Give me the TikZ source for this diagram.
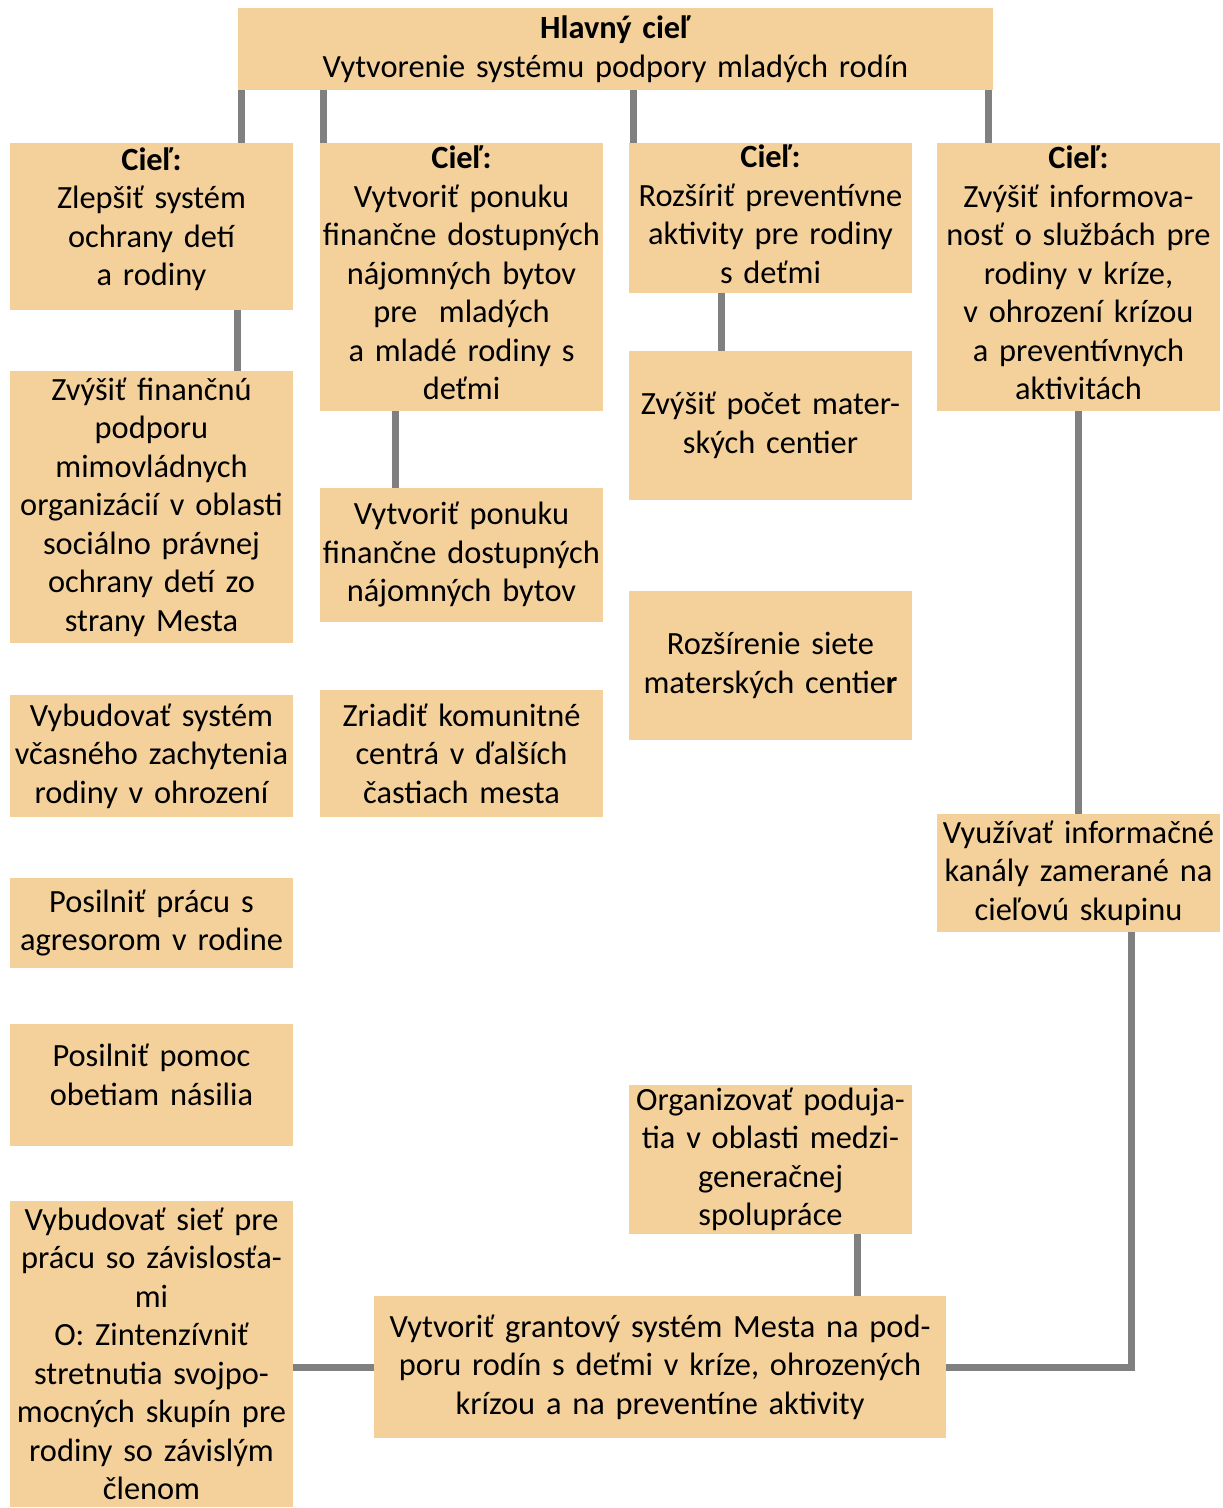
\documentclass[tikz,border=0pt]{standalone}
\usepackage{fontspec}
\setmainfont{Carlito}
\definecolor{boxfill}{RGB}{244,209,155}
\definecolor{linkgray}{RGB}{128,128,128}
% empty trailing line that lifts the text block inside its box
\newcommand\liftlines[1]{\\[#1]\mbox{}}
\begin{document}
\begin{tikzpicture}[x=1pt,y=-1pt,
  box/.style={fill=boxfill, inner sep=0pt, align=center,
    font=\fontsize{32.4}{38.5}\selectfont},
  colbox/.style={box, minimum width=283pt, text width=283pt},
  link/.style={draw=linkgray, line width=7pt}]
\useasboundingbox (0,0) rectangle (1223,1508);

% main goal
\node[box, minimum width=755pt, minimum height=82pt, text width=755pt] (top) at (615.5,49)
  {\textbf{Hlavný cieľ}\\Vytvorenie systému podpory mladých rodín};

% column 1
\node[colbox, minimum height=167pt] (c1) at (151.5,226.5)
  {\textbf{Cieľ:}\\Zlepšiť systém\\ochrany detí\\a rodiny\liftlines{-18.5pt}};
\node[colbox, minimum height=272pt] (a1) at (151.5,507)
  {Zvýšiť finančnú\\podporu\\mimovládnych\\organizácií v oblasti\\sociálno právnej\\ochrany detí zo\\strany Mesta};
\node[colbox, minimum height=122pt] (a2) at (151.5,756)
  {Vybudovať systém\\včasného zachytenia\\rodiny v ohrození};
\node[colbox, minimum height=90pt] (a3) at (151.5,923)
  {Posilniť prácu s\\agresorom v rodine};
\node[colbox, minimum height=122pt] (a4) at (151.5,1085)
  {Posilniť pomoc\\obetiam násilia\liftlines{-17.5pt}};
\node[colbox, minimum height=306pt] (a5) at (151.5,1354)
  {Vybudovať sieť pre\\prácu so závislosťa-\\mi\\O: Zintenzívniť\\stretnutia svojpo-\\mocných skupín pre\\rodiny so závislým\\členom};

% column 2
\node[colbox, minimum height=268pt] (c2) at (461.5,277)
  {\textbf{Cieľ:}\\Vytvoriť ponuku\\finančne dostupných\\nájomných bytov\\pre\ \ mladých\\a mladé rodiny s\\deťmi\liftlines{-30.5pt}};
\node[colbox, minimum height=134pt] (b1) at (461.5,555)
  {Vytvoriť ponuku\\finančne dostupných\\nájomných bytov};
\node[colbox, minimum height=127pt] (b2) at (461.5,753.5)
  {Zriadiť komunitné\\centrá v ďalších\\častiach mesta};

% column 3
\node[colbox, minimum height=150pt] (c3) at (770.5,218)
  {\textbf{Cieľ:}\\Rozšíriť preventívne\\aktivity pre rodiny\\s deťmi\liftlines{-30.5pt}};
\node[colbox, minimum height=149pt] (d1) at (770.5,425.5)
  {Zvýšiť počet mater-\\ských centier};
\node[colbox, minimum height=149pt] (d2) at (770.5,665.5)
  {Rozšírenie siete\\materských centie\textbf{r}};
\node[colbox, minimum height=149pt] (d3) at (770.5,1159.5)
  {Organizovať poduja-\\tia v oblasti medzi-\\generačnej\\spolupráce};

% column 4
\node[colbox, minimum height=268pt] (c4) at (1078.5,277)
  {\textbf{Cieľ:}\\Zvýšiť informova-\\nosť o službách pre\\rodiny v kríze,\\v ohrození krízou\\a preventívnych\\aktivitách\liftlines{-30.5pt}};
\node[colbox, minimum height=118pt] (e1) at (1078.5,873)
  {Využívať informačné\\kanály zamerané na\\cieľovú skupinu};

% grant scheme
\node[box, minimum width=572pt, minimum height=142pt, text width=572pt] (grant) at (660,1367)
  {Vytvoriť grantový systém Mesta na pod-\\poru rodín s deťmi v kríze, ohrozených\\krízou a na preventíne aktivity};

% connector positions
\coordinate (x1) at (241,0);
\coordinate (x2) at (323,0);
\coordinate (x3) at (633,0);
\coordinate (x4) at (988,0);
\coordinate (y1) at (237,0);
\coordinate (y2) at (395,0);
\coordinate (y3) at (721,0);
\coordinate (y4) at (1078,0);
\coordinate (y5) at (1131,0);
\coordinate (y6) at (857,0);

\draw[link] (top.south -| x1) -- (c1.north -| x1);
\draw[link] (top.south -| x2) -- (c2.north -| x2);
\draw[link] (top.south -| x3) -- (c3.north -| x3);
\draw[link] (top.south -| x4) -- (c4.north -| x4);
\draw[link] (c1.south -| y1) -- (a1.north -| y1);
\draw[link] (c2.south -| y2) -- (b1.north -| y2);
\draw[link] (c3.south -| y3) -- (d1.north -| y3);
\draw[link] (c4.south -| y4) -- (e1.north -| y4);
\draw[link] (e1.south -| y5) |- (grant.east);
\draw[link] (d3.south -| y6) -- (grant.north -| y6);
\draw[link] (grant.west) -- (grant.west -| a5.east);
\end{tikzpicture}
\end{document}
